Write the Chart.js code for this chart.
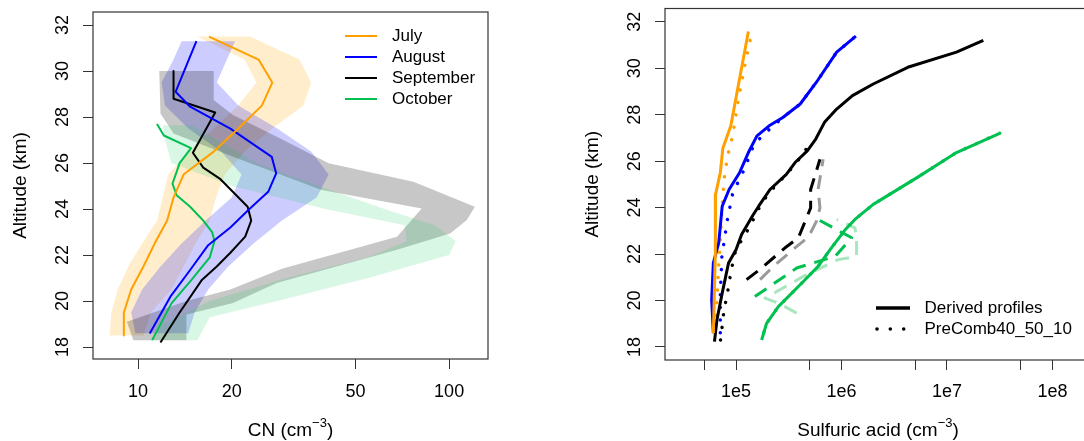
<!DOCTYPE html>
<html><head><meta charset="utf-8">
<script src="https://cdn.jsdelivr.net/npm/chart.js@4.4.1/dist/chart.umd.min.js"></script>
<style>
html,body{margin:0;padding:0;width:1084px;height:441px;overflow:hidden;background:#fff}
#c1{position:absolute;left:0;top:0}
#c2{position:absolute;left:540px;top:0}
</style></head><body>
<canvas id="c1" width="540" height="441"></canvas>
<canvas id="c2" width="560" height="441"></canvas>
<script>
// ---------- shared tick values ----------
const altTicks = [18, 20, 22, 24, 26, 28, 30, 32];
const cnTicks = [10, 20, 50, 100];
const cnTickLabels = ['10', '20', '50', '100'];
const h2so4Ticks = [5e4, 1e5, 5e5, 1e6, 5e6, 1e7, 5e7, 1e8];
const h2so4TickLabels = ['', '1e5', '', '1e6', '', '1e7', '', '1e8'];
const monthNames = ['July', 'August', 'September', 'October'];
const sourceNames = ['Derived profiles', 'PreComb40_50_10'];

// ---------- left panel: CN profiles ----------
const julyAlt = [31.5, 30.5, 29.5, 28.5, 27.5, 26.5, 25.5, 24.5, 23.5, 22.5, 21.5, 20.5, 19.5, 18.5];
const julyCN  = [16.9, 24.4, 27.0, 25.0, 21.0, 17.5, 14.0, 13.0, 12.4, 11.3, 10.4, 9.5, 9.0, 9.0];
const augAlt = [31.3, 29.1, 28.45, 27.5, 26.27, 25.55, 24.75, 24.0, 23.2, 22.43, 21.35, 20.19, 18.59];
const augCN  = [15.4, 13.2, 14.7, 19.8, 26.9, 27.8, 26.2, 22.8, 19.8, 16.8, 14.7, 12.7, 10.9];
const sepAlt = [30.0, 28.8, 28.2, 26.45, 25.8, 25.3, 24.1, 23.5, 22.8, 22.1, 21.5, 20.9, 19.5, 18.2];
const sepCN  = [13.0, 13.0, 17.7, 15.0, 16.2, 18.4, 22.5, 23.1, 22.1, 19.8, 17.9, 16.0, 13.6, 11.8];
const octAlt = [27.7, 27.2, 26.65, 26.0, 25.1, 24.6, 24.1, 23.5, 23.0, 22.6, 21.9, 20.9, 19.9, 18.3];
const octCN  = [11.5, 12.1, 14.8, 13.6, 12.9, 13.3, 14.7, 16.2, 17.3, 17.6, 17.0, 14.8, 12.8, 11.1];

// uncertainty bands (lower and upper edges, listed top to bottom)
const julyBandAlt = [31.5, 30.5, 29.5, 28.5, 27.5, 26.5, 25.5, 24.5, 23.5, 22.5, 21.5, 20.5, 19.5, 18.5];
const julyBandLo  = [15.5, 22.0, 24.0, 21.0, 17.5, 14.5, 12.5, 12.0, 11.5, 10.3, 9.3, 8.6, 8.2, 8.1];
const julyBandHi  = [22.9, 33.0, 36.0, 34.0, 27.0, 22.0, 19.0, 17.8, 17.0, 15.3, 14.0, 12.8, 11.0, 10.4];
const augBandAlt = [31.3, 30.5, 29.5, 28.5, 27.5, 26.5, 25.5, 24.5, 23.5, 22.5, 21.5, 20.5, 19.5, 18.6];
const augBandLo  = [13.8, 13.0, 11.9, 12.2, 14.5, 18.5, 21.5, 20.0, 16.5, 13.8, 11.8, 10.3, 9.5, 9.8];
const augBandHi  = [20.5, 19.3, 17.9, 21.0, 28.0, 36.0, 41.0, 37.5, 29.0, 23.5, 19.5, 16.8, 15.2, 14.5];
const sepBandLoAlt = [30.0, 28.16, 27.29, 26.27, 24.83, 24.03, 22.8, 21.4, 20.5, 20.0, 19.1, 18.3];
const sepBandLo    = [11.7, 11.8, 13.0, 20.2, 38.9, 81.6, 68.0, 29.0, 19.8, 14.3, 9.2, 9.66];
const sepBandHiAlt = [30.0, 28.74, 28.09, 27.0, 25.99, 25.19, 24.1, 23.52, 22.94, 22.23, 20.78, 19.91, 19.42, 18.3];
const sepBandHi    = [17.5, 17.5, 20.2, 29.3, 41.0, 76.8, 121, 114, 100.8, 68.0, 27.9, 20.2, 14.3, 14.3];
const octBandLoAlt = [27.65, 27.0, 26.0, 25.0, 24.0, 23.3, 22.6, 21.9, 21.0, 20.0, 19.0, 18.3];
const octBandLo    = [12.0, 12.2, 12.8, 20.0, 40.0, 72.0, 73.0, 55.0, 30.0, 17.0, 12.0, 11.0];
const octBandHiAlt = [27.65, 27.0, 26.0, 25.0, 24.0, 23.3, 22.6, 22.0, 21.0, 20.0, 19.3, 18.3];
const octBandHi    = [14.9, 18.0, 24.0, 38.0, 62.0, 90.0, 105.0, 100.0, 55.0, 28.0, 17.0, 15.5];

// ---------- right panel: sulfuric acid ----------
const julyDerAlt = [31.58, 27.52, 26.54, 25.5, 24.57, 22.05, 18.59];
const julyDer    = [1.31e5, 8.93e4, 7.5e4, 7.1e4, 6.4e4, 6.37e4, 6.1e4];
const julyPreAlt = [31.19, 30.1, 28.5, 27.1, 26.2, 25.2, 24.1, 22.6, 21.5, 20.0, 18.6];
const julyPre    = [1.36e5, 1.21e5, 1.04e5, 9.3e4, 8.3e4, 7.7e4, 7.4e4, 7.1e4, 6.85e4, 6.6e4, 6.3e4];
const augDerAlt = [31.38, 30.69, 29.47, 28.46, 27.88, 27.52, 27.09, 26.37, 25.5, 24.78, 24.06, 22.48, 21.62, 20.03, 18.59];
const augDer    = [1.37e6, 9.0e5, 5.93e5, 4.06e5, 2.78e5, 2.06e5, 1.58e5, 1.31e5, 1.08e5, 8.6e4, 7.4e4, 6.86e4, 6.1e4, 5.88e4, 6.1e4];
const augPreAlt = [31.3, 30.69, 29.47, 28.46, 27.88, 27.09, 26.66, 25.65, 25.15, 24.6, 23.5, 21.9, 20.3, 18.6];
const augPre    = [1.3e6, 9.0e5, 5.93e5, 4.06e5, 2.78e5, 1.77e5, 1.46e5, 1.2e5, 1.06e5, 9.3e4, 8.3e4, 7.35e4, 7.1e4, 7.1e4];
const sepDerAlt = [31.2, 30.69, 30.04, 29.32, 28.82, 28.24, 27.67, 26.95, 26.44, 25.94, 25.43, 24.78, 24.06, 23.7, 22.84, 22.19, 21.62, 20.32, 19.17, 18.23];
const sepDer    = [2.21e7, 1.23e7, 4.25e6, 2.0e6, 1.27e6, 9.0e5, 6.9e5, 5.7e5, 4.74e5, 3.63e5, 3.0e5, 2.1e5, 1.64e5, 1.46e5, 1.13e5, 1.0e5, 8.5e4, 7.4e4, 6.6e4, 6.25e4];
const sepPreAlt = [26.5, 25.9, 25.29, 24.92, 24.49, 24.06, 23.63, 23.2, 22.48, 22.05, 21.6, 20.9, 20.3, 19.6, 18.9, 18.23];
const sepPre    = [4.6e5, 3.7e5, 2.8e5, 2.34e5, 1.95e5, 1.69e5, 1.51e5, 1.36e5, 1.09e5, 9.8e4, 9.3e4, 8.7e4, 8.3e4, 7.7e4, 7.4e4, 7.1e4];
const sepAltAAlt = [20.9, 21.4, 22.26, 22.7, 23.49, 23.99, 24.78, 26.08];
const sepAltA    = [1.26e5, 1.75e5, 2.9e5, 3.9e5, 4.6e5, 5.1e5, 5.1e5, 6.25e5];
const sepAltBAlt = [20.9, 21.47, 22.33, 22.74, 23.42, 23.99, 24.78, 26.08];
const sepAltB    = [1.69e5, 2.26e5, 3.77e5, 4.87e5, 5.8e5, 6.25e5, 6.0e5, 6.7e5];
const octDerAlt = [27.2, 26.37, 25.29, 24.14, 23.49, 23.06, 22.19, 21.47, 20.82, 19.74, 19.02, 18.3];
const octDer    = [3.16e7, 1.23e7, 5.2e6, 2.0e6, 1.34e6, 1.09e6, 7.8e5, 6.0e5, 4.35e5, 2.52e5, 1.95e5, 1.75e5];
const octAltAAlt = [20.17, 21.4, 21.9, 22.7, 23.56];
const octAltA    = [1.51e5, 3.76e5, 8.7e5, 1.25e6, 5.6e5];
const octAltBAlt = [19.46, 19.89, 20.1, 21.04, 21.76, 21.9, 22.7, 23.13, 23.49];
const octAltB    = [3.76e5, 2.52e5, 1.88e5, 4.35e5, 9.3e5, 1.39e6, 1.39e6, 1.34e6, 9.0e5];

// ---------- styling ----------
const FONT = '"Liberation Sans", Arial, Helvetica, sans-serif';
const C_JUL = '#FFA000', C_AUG = '#0000FF', C_SEP = '#000000', C_OCT = '#00C050';

function pts(xs, ys) { return xs.map((x, i) => ({x: x, y: ys[i]})); }
function poly(loX, loY, hiX, hiY) {
  return pts(loX, loY).concat(pts(hiX, hiY).reverse());
}
function lineDs(xs, ys, color, width, dash) {
  return {data: pts(xs, ys), showLine: true, borderColor: color, borderWidth: width,
    borderDash: dash || [], borderCapStyle: dash && dash[0] < 1 ? 'round' : 'butt',
    borderJoinStyle: 'round', pointRadius: 0, fill: false, tension: 0};
}
function bandDs(points, color) {
  return {data: points, showLine: true, borderWidth: 0, borderColor: 'rgba(0,0,0,0)',
    backgroundColor: color, pointRadius: 0, fill: 'shape', tension: 0};
}

function axisCfg(type, min, max, ticks, size, isX) {
  return {
    type: type, min: min, max: max, bounds: 'data',
    afterBuildTicks: s => { s.ticks = ticks.map(v => ({value: v})); },
    afterFit: s => { if (isX) s.height = size; else s.width = size; },
    grid: {display: true, drawOnChartArea: false, drawTicks: true, tickLength: 10, color: '#333', lineWidth: 1},
    border: {display: false},
    ticks: {display: false}
  };
}

function drawTitle(ctx, cx, cy, parts, rotate) {
  ctx.save();
  ctx.translate(cx, cy);
  if (rotate) ctx.rotate(-Math.PI / 2);
  let total = 0;
  parts.forEach(p => { ctx.font = p.size + 'px ' + FONT; p.w = ctx.measureText(p.t).width; total += p.w; });
  let x = -total / 2;
  ctx.textBaseline = 'middle'; ctx.textAlign = 'left'; ctx.fillStyle = '#000';
  parts.forEach(p => { ctx.font = p.size + 'px ' + FONT; ctx.fillText(p.t, x, p.dy || 0); x += p.w; });
  ctx.restore();
}

function frame(opts) {
  return {
    id: 'rframe',
    afterDraw(chart) {
      const ctx = chart.ctx, a = chart.chartArea, sx = chart.scales.x, sy = chart.scales.y;
      ctx.save();
      ctx.strokeStyle = '#333'; ctx.lineWidth = 1.2;
      ctx.strokeRect(a.left, a.top, a.right - a.left, a.bottom - a.top);
      ctx.fillStyle = '#000';
      ctx.font = '18px ' + FONT; ctx.textAlign = 'center'; ctx.textBaseline = 'middle';
      altTicks.forEach(v => {
        const y = sy.getPixelForValue(v);
        ctx.save(); ctx.translate(a.left - 30, y); ctx.rotate(-Math.PI / 2);
        ctx.fillText(String(v), 0, 0); ctx.restore();
      });
      opts.xTicks.forEach((v, i) => {
        const lab = opts.xLabels[i];
        if (lab) ctx.fillText(lab, sx.getPixelForValue(v), 392);
      });
      ctx.restore();
      const cx = (a.left + a.right) / 2;
      drawTitle(ctx, cx, 431, [{t: opts.xTitle, size: 19}, {t: '\u22123', size: 13, dy: -8}, {t: ')', size: 19}], false);
      drawTitle(ctx, a.left - 72, (a.top + a.bottom) / 2, [{t: 'Altitude (km)', size: 19}], true);
      opts.legend(ctx);
    }
  };
}

function makeChart(id, datasets, xType, xMin, xMax, xTicks, xLabels, yMin, yMax, pad, yW, xH, xTitle, legend) {
  return new Chart(document.getElementById(id), {
    type: 'scatter',
    data: {datasets: datasets},
    options: {
      responsive: false, animation: false, devicePixelRatio: 1, events: [],
      layout: {padding: pad},
      plugins: {legend: {display: false}, tooltip: {enabled: false}, filler: {propagate: false}},
      scales: {
        x: axisCfg(xType, xMin, xMax, xTicks, xH, true),
        y: axisCfg('linear', yMin, yMax, altTicks, yW, false)
      }
    },
    plugins: [frame({xTicks: xTicks, xLabels: xLabels, xTitle: xTitle, legend: legend})]
  });
}

// ----- left chart -----
const leftDs = [
  lineDs(julyCN, julyAlt, C_JUL, 2),
  lineDs(augCN, augAlt, C_AUG, 2),
  lineDs(sepCN, sepAlt, C_SEP, 2),
  lineDs(octCN, octAlt, C_OCT, 2),
  bandDs(poly(octBandLo, octBandLoAlt, octBandHi, octBandHiAlt), 'rgba(0,200,80,0.15)'),
  bandDs(poly(sepBandLo, sepBandLoAlt, sepBandHi, sepBandHiAlt), 'rgba(0,0,0,0.22)'),
  bandDs(poly(augBandLo, augBandAlt, augBandHi, augBandAlt), 'rgba(0,0,255,0.2)'),
  bandDs(poly(julyBandLo, julyBandAlt, julyBandHi, julyBandAlt), 'rgba(255,165,0,0.2)')
];
const monthColors = [C_JUL, C_AUG, C_SEP, C_OCT];
makeChart('c1', leftDs, 'logarithmic', Math.pow(10, 0.855), Math.pow(10, 2.125), cnTicks, cnTickLabels,
  17.48, 32.57, {left: 0, right: 52, top: 12, bottom: 0}, 93, 82, 'CN (cm',
  ctx => {
    ctx.save();
    ctx.font = '17px ' + FONT; ctx.textBaseline = 'middle'; ctx.textAlign = 'left'; ctx.lineWidth = 2;
    monthNames.forEach((m, i) => {
      const y = 36 + 21 * i;
      ctx.strokeStyle = monthColors[i];
      ctx.beginPath(); ctx.moveTo(345, y); ctx.lineTo(377, y); ctx.stroke();
      ctx.fillStyle = '#000'; ctx.fillText(m, 392, y);
    });
    ctx.restore();
  });

// ----- right chart -----
const DOT = [0.01, 12.6], DASH = [14, 9];
const rightDs = [
  lineDs(julyDer, julyDerAlt, C_JUL, 3),
  lineDs(augDer, augDerAlt, C_AUG, 3),
  lineDs(sepDer, sepDerAlt, C_SEP, 3),
  lineDs(octDer, octDerAlt, C_OCT, 3),
  lineDs(julyPre, julyPreAlt, C_JUL, 3.5, DOT),
  lineDs(augPre, augPreAlt, C_AUG, 3.5, DOT),
  lineDs(sepPre, sepPreAlt, C_SEP, 3.5, DOT),
  lineDs(octDer, octDerAlt, C_OCT, 3.5, DOT),
  lineDs(sepAltA, sepAltAAlt, C_SEP, 3, DASH),
  lineDs(sepAltB, sepAltBAlt, '#9a9a9a', 3, DASH),
  lineDs(octAltA, octAltAAlt, C_OCT, 3, DASH),
  lineDs(octAltB, octAltBAlt, '#a8e6bf', 3, DASH)
];
makeChart('c2', rightDs, 'logarithmic', Math.pow(10, 4.327), Math.pow(10, 8.365), h2so4Ticks, h2so4TickLabels,
  17.44, 32.57, {left: 0, right: 9, top: 8.5, bottom: 0}, 125, 81, 'Sulfuric acid (cm',
  ctx => {
    ctx.save();
    ctx.font = '17px ' + FONT; ctx.textBaseline = 'middle'; ctx.textAlign = 'left';
    ctx.strokeStyle = '#000'; ctx.lineWidth = 3.5;
    ctx.beginPath(); ctx.moveTo(336, 308); ctx.lineTo(370, 308); ctx.stroke();
    ctx.fillStyle = '#000';
    [337, 350.3, 363.7].forEach(x => { ctx.beginPath(); ctx.arc(x, 329, 1.8, 0, 2 * Math.PI); ctx.fill(); });
    ctx.fillText(sourceNames[0], 384.5, 308);
    ctx.fillText(sourceNames[1], 384.5, 329);
    ctx.restore();
  });
</script>
</body></html>
